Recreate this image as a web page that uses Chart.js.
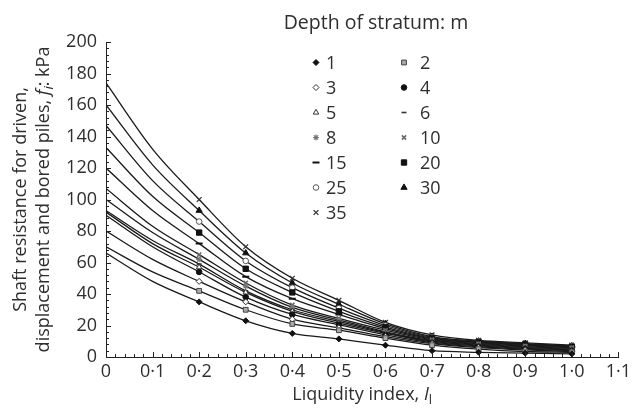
<!DOCTYPE html>
<html>
<head>
<meta charset="utf-8">
<script src="https://cdn.jsdelivr.net/npm/chart.js@4"></script>
<style>
  html, body { margin: 0; padding: 0; background: #fff; }
  #wrap { width: 635px; height: 412px; }
</style>
</head>
<body>
<div id="wrap"><canvas id="chart" width="635" height="412"></canvas></div>
<script>
// Liquidity index positions (0 and 0.1 are curve only, markers from 0.2)
const liquidity = [0, 0.1, 0.2, 0.3, 0.4, 0.5, 0.6, 0.7, 0.8, 0.9, 1.0];
const depthLabels = ['1', '2', '3', '4', '5', '6', '8', '10', '15', '20', '25', '30', '35'];

// Shaft resistance f_i (kPa) per depth of stratum
const depth1  = [66, 48, 35, 23, 15, 11.5, 7.5, 4, 3, 2.5, 2];
const depth2  = [70, 54, 42, 30, 21, 17, 12, 7.5, 5, 3.5, 3];
const depth3  = [80, 62, 48, 35, 24, 18.5, 13, 8.5, 6, 4.5, 3.5];
const depth4  = [90, 70, 54, 38, 27, 20.5, 14, 9, 6.5, 5, 4];
const depth5  = [92, 72, 57, 41, 29, 21.5, 15, 9.5, 7, 5.5, 4.5];
const depth6  = [93, 74, 59, 42, 30, 22.5, 15.5, 10, 7.5, 6, 5];
const depth8  = [100, 79, 62, 45, 31.5, 23.5, 16, 10.5, 8, 6.5, 5.5];
const depth10 = [107, 83, 65, 47, 33, 24.5, 17, 11, 8.5, 7, 6];
const depth15 = [120, 93, 72, 51, 37, 27, 18, 11.5, 9, 7.5, 6.5];
const depth20 = [133, 102, 79, 56, 41, 29, 19, 12, 9.5, 8, 6.5];
const depth25 = [147, 112, 86, 61, 44, 31, 20, 12.5, 10, 8, 7];
const depth30 = [160, 122, 93, 66, 47, 33.5, 21, 13, 10, 8.5, 7];
const depth35 = [174, 132, 100, 70, 50, 36, 22, 14, 10.5, 9, 7.5];

const allDepths = [depth1, depth2, depth3, depth4, depth5, depth6, depth8,
                   depth10, depth15, depth20, depth25, depth30, depth35];

const FONT = '"Open Sans", "Noto Sans", sans-serif';
const TEXT = '#2e2e2e';
const FS = 18;

// marker look for each depth, same order as depthLabels
const markers = [
    { style: 'rectRot',  r: 3,   fill: '#111', stroke: '#111', bw: 1 },
    { style: 'rect',     r: 3.4, fill: '#aaa', stroke: '#444', bw: 1 },
    { style: 'rectRot',  r: 3,   fill: '#fff', stroke: '#333', bw: 1 },
    { style: 'circle',   r: 2.8, fill: '#111', stroke: '#111', bw: 1 },
    { style: 'triangle', r: 3.2, fill: '#fff', stroke: '#333', bw: 1 },
    { style: 'line',     r: 2.5, fill: '#333', stroke: '#333', bw: 1.6 },
    { style: 'star',     r: 3,   fill: '#999', stroke: '#777', bw: 1.2 },
    { style: 'crossRot', r: 3,   fill: '#777', stroke: '#666', bw: 1.5 },
    { style: 'line',     r: 3.5, fill: '#111', stroke: '#111', bw: 2 },
    { style: 'rect',     r: 3.8, fill: '#111', stroke: '#111', bw: 1 },
    { style: 'circle',   r: 2.8, fill: '#fff', stroke: '#555', bw: 1 },
    { style: 'triangle', r: 3.6, fill: '#111', stroke: '#111', bw: 1 },
    { style: 'crossRot', r: 3.4, fill: '#333', stroke: '#333', bw: 1.3 }
];

const datasets = allDepths.map((vals, i) => {
    const m = markers[i];
    return {
        label: depthLabels[i],
        data: vals.map((v, k) => ({ x: liquidity[k], y: v })),
        borderColor: '#1a1a1a',
        borderWidth: 1.3,
        cubicInterpolationMode: 'monotone',
        fill: false,
        pointStyle: m.style,
        pointRadius: (c) => (c.raw && c.raw.x < 0.15 ? 0 : m.r),
        pointHoverRadius: 0,
        pointBackgroundColor: m.fill,
        pointBorderColor: m.stroke,
        pointBorderWidth: m.bw
    };
});

// inward tick marks on both axes
const tickMarks = {
    id: 'tickMarks',
    afterDraw(chart) {
        const { ctx, scales: { x, y } } = chart;
        ctx.save();
        ctx.strokeStyle = '#222';
        ctx.lineWidth = 1;
        ctx.beginPath();
        for (let v = 0; v <= 200; v += 4) {
            const py = Math.round(y.getPixelForValue(v)) + 0.5;
            const len = v % 20 === 0 ? 5 : 3;
            ctx.moveTo(x.left, py);
            ctx.lineTo(x.left + len, py);
        }
        for (let k = 0; k <= 55; k++) {
            const px = Math.round(x.getPixelForValue(k * 0.02)) + 0.5;
            const len = k % 5 === 0 ? 5 : 3;
            ctx.moveTo(px, y.bottom);
            ctx.lineTo(px, y.bottom - len);
        }
        ctx.stroke();
        ctx.restore();
    }
};

// draws a run of [text, font, dy] pieces centred on 0
function drawPieces(ctx, pieces) {
    let total = 0;
    pieces.forEach(p => { ctx.font = p[1]; total += ctx.measureText(p[0]).width; });
    let cx = -total / 2;
    pieces.forEach(p => {
        ctx.font = p[1];
        ctx.fillText(p[0], cx, p[2] || 0);
        cx += ctx.measureText(p[0]).width;
    });
}

const titles = {
    id: 'titles',
    afterDraw(chart) {
        const { ctx, chartArea: a } = chart;
        ctx.save();
        ctx.fillStyle = TEXT;
        ctx.textBaseline = 'alphabetic';
        ctx.textAlign = 'left';
        const norm = FS + 'px ' + FONT;
        const ital = 'italic ' + FS + 'px ' + FONT;
        const sub = 'italic 13px ' + FONT;
        const subUp = '13px ' + FONT;

        // y axis title, two rotated lines
        const midY = (a.top + a.bottom) / 2;
        ctx.save();
        ctx.translate(26, midY);
        ctx.rotate(-Math.PI / 2);
        drawPieces(ctx, [['Shaft resistance for driven,', norm]]);
        ctx.restore();
        ctx.save();
        ctx.translate(49, midY);
        ctx.rotate(-Math.PI / 2);
        drawPieces(ctx, [['displacement and bored piles, ', norm], ['f', ital], ['i', sub, 4], [': kPa', norm]]);
        ctx.restore();

        // x axis title
        ctx.save();
        ctx.translate((a.left + a.right) / 2, 400);
        drawPieces(ctx, [['Liquidity index, ', norm], ['I', ital], ['l', subUp, 4]]);
        ctx.restore();
        ctx.restore();
    }
};

// two-column legend placed inside the plot
const depthLegend = {
    id: 'depthLegend',
    afterDraw(chart) {
        const ctx = chart.ctx;
        ctx.save();
        ctx.fillStyle = TEXT;
        ctx.font = '19.5px ' + FONT;
        ctx.textAlign = 'center';
        ctx.textBaseline = 'middle';
        ctx.fillText('Depth of stratum: m', 376, 23);

        ctx.font = FS + 'px ' + FONT;
        ctx.textAlign = 'left';
        depthLabels.forEach((lab, i) => {
            const m = markers[i];
            const col = i % 2;
            const row = Math.floor(i / 2);
            const y = 62.5 + row * 25;
            const mx = col === 0 ? 316 : 404;
            const tx = col === 0 ? 326 : 420;
            ctx.fillStyle = m.fill;
            ctx.strokeStyle = m.stroke;
            ctx.lineWidth = m.bw;
            Chart.helpers.drawPoint(ctx, { pointStyle: m.style, radius: m.r, rotation: 0, borderWidth: m.bw }, mx, y);
            ctx.fillStyle = TEXT;
            ctx.fillText(lab, tx, y + 1);
        });
        ctx.restore();
    }
};

const fmtLI = (v) => (v === 0 ? '0' : Number(v).toFixed(1).replace('.', '\u00b7'));

new Chart(document.getElementById('chart'), {
    type: 'line',
    data: { datasets },
    options: {
        responsive: false,
        animation: false,
        events: [],
        layout: { padding: { left: 0, right: 12, top: 42, bottom: 0 } },
        plugins: {
            legend: { display: false },
            tooltip: { enabled: false }
        },
        scales: {
            x: {
                type: 'linear',
                min: 0,
                max: 1.1,
                afterFit: (s) => { s.height = 55; },
                grid: { display: false, drawTicks: false },
                border: { display: true, color: '#222', width: 1 },
                ticks: {
                    stepSize: 0.1,
                    padding: 4,
                    color: TEXT,
                    font: { family: FONT, size: FS },
                    callback: fmtLI
                }
            },
            y: {
                min: 0,
                max: 200,
                afterFit: (s) => { s.width = 106; },
                grid: { display: false, drawTicks: false },
                border: { display: true, color: '#222', width: 1 },
                ticks: {
                    stepSize: 20,
                    padding: 9,
                    color: TEXT,
                    font: { family: FONT, size: FS }
                }
            }
        }
    },
    plugins: [tickMarks, titles, depthLegend]
});
</script>
</body>
</html>
